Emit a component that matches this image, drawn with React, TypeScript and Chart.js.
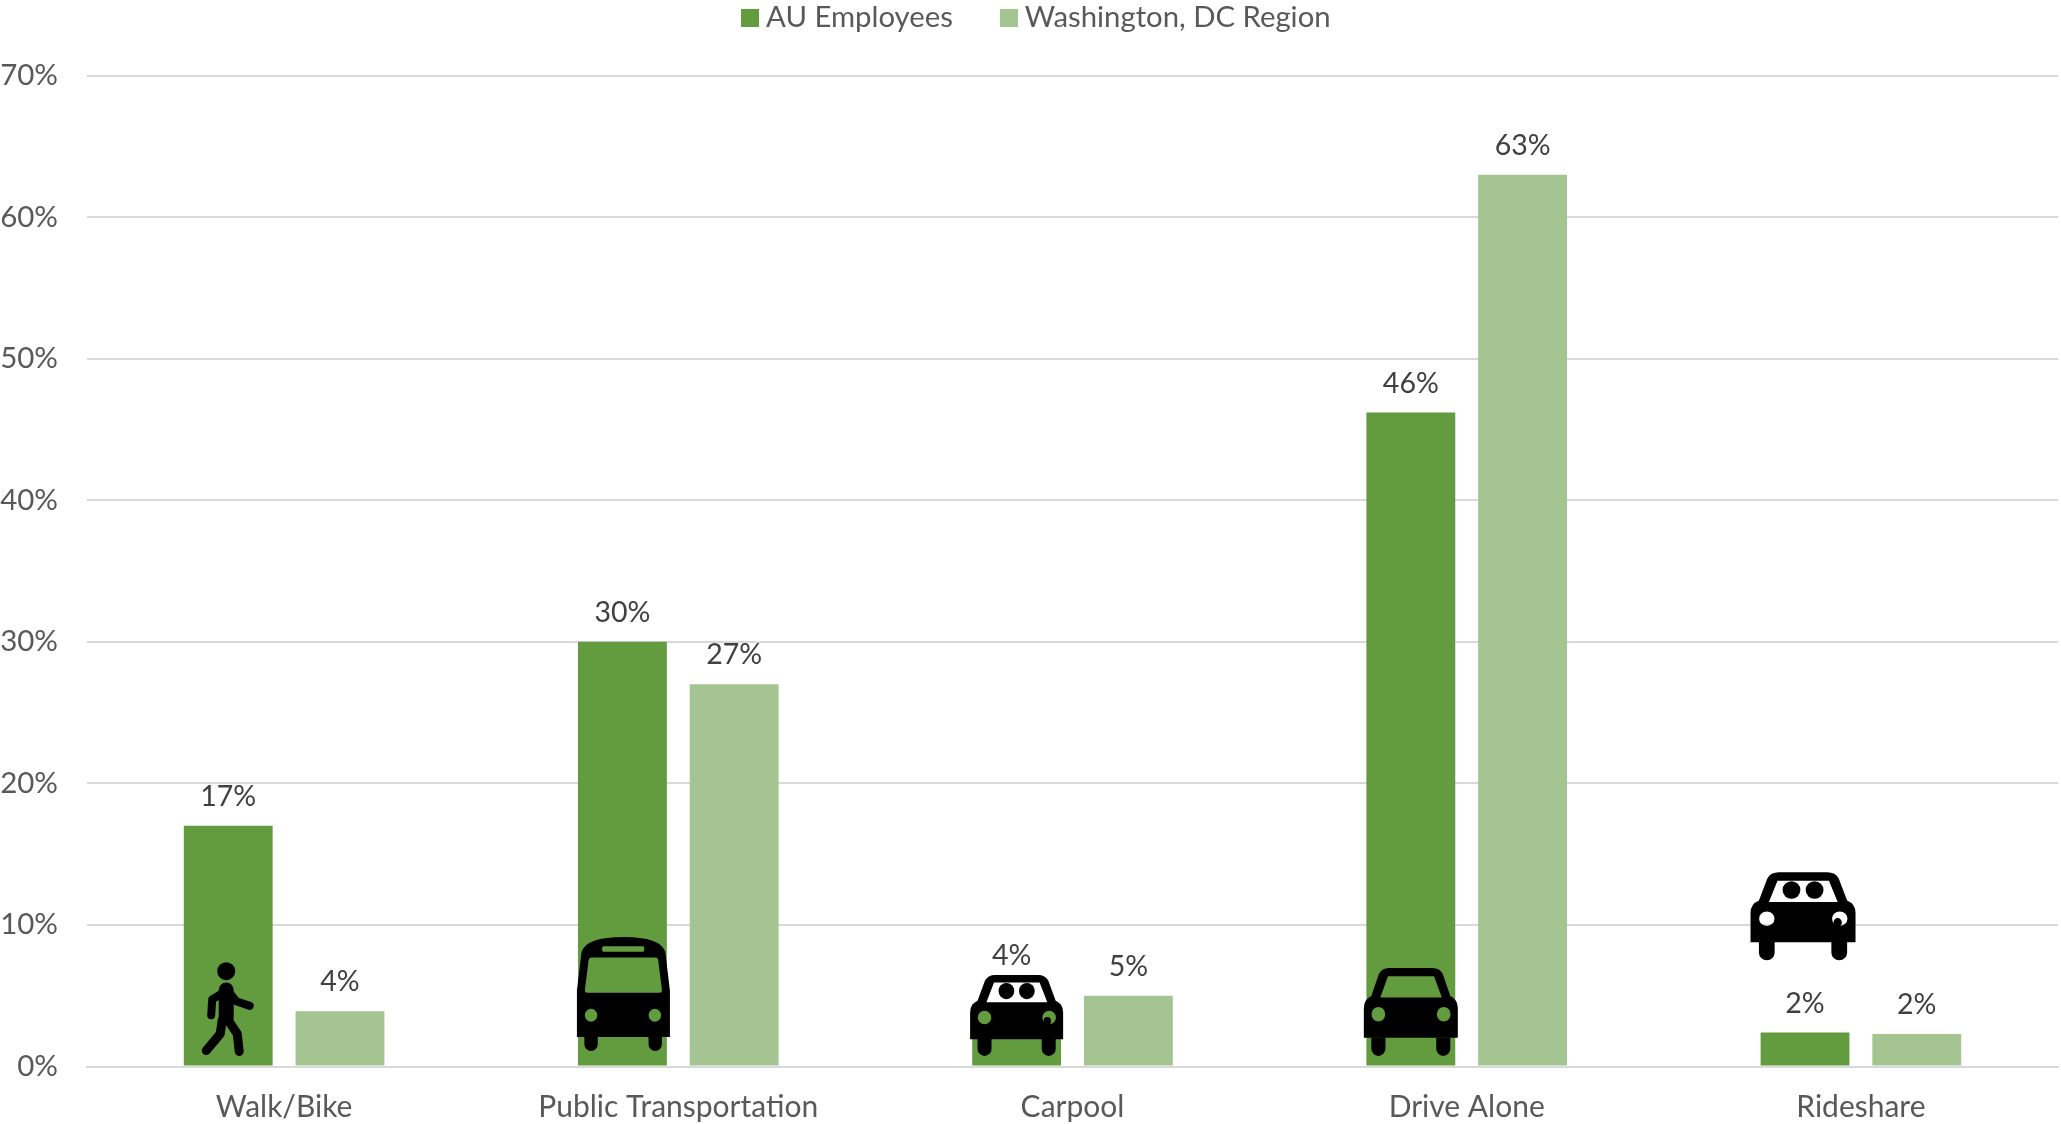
import React, { useEffect, useRef } from "react";
import { Chart, registerables } from "chart.js";

Chart.register(...registerables);

const categories = ["Walk/Bike", "Public Transportation", "Carpool", "Drive Alone", "Rideshare"];
const auEmployees = [17, 30, 4.4, 46.2, 2.4];
const dcRegion = [3.9, 27, 5, 63, 2.3];
const auLabels = ["17%", "30%", "4%", "46%", "2%"];
const dcLabels = ["4%", "27%", "5%", "63%", "2%"];
const yTicks = [0, 10, 20, 30, 40, 50, 60, 70];
const iconKinds = ["walker", "bus", "carpool", "car", "carpool"];
const iconBottomValues = [0.8, 1.1, 0.75, 0.75, 7.5];
const iconSizes = [[50, 93], [93, 114], [93, 81], [94, 88], [105, 88]];
const iconShiftX = [-1, 1, 0, 0, -2];
const auLabelLift = [0, 0, 19, 0, 0];
const auLabelShift = [0, 0, -5, 0, 0];

const GREEN = "#639B3F";
const LIGHT = "#A4C591";
const FONT = "Lato, 'Noto Sans', sans-serif";
const LEGEND_SHIFT = 11;

function ellipsePath(p: Path2D, cx: number, cy: number, rx: number, ry: number) {
  p.moveTo(cx + rx, cy);
  p.ellipse(cx, cy, rx, ry, 0, 0, Math.PI * 2);
}

function wheel(ctx: CanvasRenderingContext2D, x0: number, x1: number, y0: number, y1: number) {
  const r = (x1 - x0) / 2;
  ctx.beginPath();
  ctx.moveTo(x0, y0);
  ctx.lineTo(x0, y1 - r);
  ctx.arc(x0 + r, y1 - r, r, Math.PI, 0, true);
  ctx.lineTo(x1, y0);
  ctx.closePath();
  ctx.fill();
}

function drawCar(ctx: CanvasRenderingContext2D, x: number, y: number, w: number, h: number, people: boolean) {
  const X = (v: number) => x + v * w;
  const Y = (v: number) => y + v * h;
  const p = new Path2D();
  p.moveTo(X(0), Y(0.795));
  p.lineTo(X(0), Y(0.46));
  p.quadraticCurveTo(X(0), Y(0.36), X(0.08), Y(0.32));
  p.lineTo(X(0.16), Y(0.07));
  p.quadraticCurveTo(X(0.19), Y(0), X(0.27), Y(0));
  p.lineTo(X(0.73), Y(0));
  p.quadraticCurveTo(X(0.81), Y(0), X(0.84), Y(0.07));
  p.lineTo(X(0.92), Y(0.32));
  p.quadraticCurveTo(X(1), Y(0.36), X(1), Y(0.46));
  p.lineTo(X(1), Y(0.795));
  p.closePath();
  p.moveTo(X(0.257), Y(0.095));
  p.lineTo(X(0.747), Y(0.095));
  p.lineTo(X(0.83), Y(0.337));
  p.lineTo(X(0.175), Y(0.337));
  p.closePath();
  ellipsePath(p, X(0.155), Y(0.527), 0.073 * w, 0.083 * h);
  ellipsePath(p, X(0.85), Y(0.527), 0.073 * w, 0.083 * h);
  ctx.fill(p, "evenodd");
  wheel(ctx, X(0.08), X(0.23), Y(0.79), Y(1));
  wheel(ctx, X(0.77), X(0.92), Y(0.79), Y(1));
  if (people) {
    for (const cx of [0.39, 0.61]) {
      ctx.beginPath();
      ctx.ellipse(X(cx), Y(0.2), 0.085 * w, 0.1 * h, 0, 0, Math.PI * 2);
      ctx.fill();
    }
    ctx.beginPath();
    ctx.ellipse(X(0.83), Y(0.57), 0.04 * w, 0.05 * h, 0, 0, Math.PI * 2);
    ctx.fill();
  }
}

function drawBus(ctx: CanvasRenderingContext2D, x: number, y: number, w: number, h: number) {
  const X = (v: number) => x + v * w;
  const Y = (v: number) => y + v * h;
  const p = new Path2D();
  p.moveTo(X(0), Y(0.877));
  p.lineTo(X(0), Y(0.47));
  p.lineTo(X(0.05), Y(0.13));
  p.quadraticCurveTo(X(0.1), Y(0), X(0.5), Y(0));
  p.quadraticCurveTo(X(0.9), Y(0), X(0.95), Y(0.13));
  p.lineTo(X(1), Y(0.47));
  p.lineTo(X(1), Y(0.877));
  p.closePath();
  p.moveTo(X(0.16), Y(0.18));
  p.lineTo(X(0.85), Y(0.18));
  p.quadraticCurveTo(X(0.87), Y(0.18), X(0.875), Y(0.21));
  p.lineTo(X(0.915), Y(0.47));
  p.quadraticCurveTo(X(0.915), Y(0.49), X(0.89), Y(0.49));
  p.lineTo(X(0.11), Y(0.49));
  p.quadraticCurveTo(X(0.085), Y(0.49), X(0.085), Y(0.47));
  p.lineTo(X(0.125), Y(0.21));
  p.quadraticCurveTo(X(0.13), Y(0.18), X(0.16), Y(0.18));
  p.closePath();
  p.moveTo(X(0.28), Y(0.082));
  p.lineTo(X(0.715), Y(0.082));
  p.quadraticCurveTo(X(0.735), Y(0.106), X(0.715), Y(0.131));
  p.lineTo(X(0.28), Y(0.131));
  p.quadraticCurveTo(X(0.26), Y(0.106), X(0.28), Y(0.082));
  p.closePath();
  ellipsePath(p, X(0.152), Y(0.687), 0.067 * w, 0.056 * h);
  ellipsePath(p, X(0.838), Y(0.687), 0.067 * w, 0.056 * h);
  ctx.fill(p, "evenodd");
  wheel(ctx, X(0.08), X(0.224), Y(0.87), Y(1));
  wheel(ctx, X(0.77), X(0.914), Y(0.87), Y(1));
}

function drawWalker(ctx: CanvasRenderingContext2D, x: number, y: number, w: number, h: number) {
  const X = (v: number) => x + v * w;
  const Y = (v: number) => y + v * h;
  const limb = (pts: number[][], width: number) => {
    ctx.lineWidth = width;
    ctx.lineCap = "round";
    ctx.lineJoin = "round";
    ctx.beginPath();
    pts.forEach(([a, b], i) => (i ? ctx.lineTo(X(a), Y(b)) : ctx.moveTo(X(a), Y(b))));
    ctx.stroke();
  };
  ctx.beginPath();
  ctx.ellipse(X(0.48), Y(0.097), 0.18 * w, 0.097 * h, 0, 0, Math.PI * 2);
  ctx.fill();
  limb([[0.48, 0.3], [0.48, 0.6]], 15);
  limb([[0.38, 0.34], [0.2, 0.4], [0.18, 0.57]], 8);
  limb([[0.58, 0.35], [0.68, 0.42], [0.95, 0.47]], 8);
  limb([[0.4, 0.62], [0.36, 0.77], [0.08, 0.95]], 9);
  limb([[0.54, 0.64], [0.7, 0.77], [0.74, 0.96]], 9);
}

function legendSwatch(color: string) {
  const c = document.createElement("canvas");
  c.width = 18;
  c.height = 18;
  const g = c.getContext("2d")!;
  g.fillStyle = color;
  g.fillRect(0, 0, 18, 18);
  return c;
}

const legendSpacingPlugin = {
  id: "legendSpacing",
  beforeLayout(chart: any) {
    const legend = chart.legend;
    if (!legend || legend.__wrapped) return;
    const fit = legend.fit;
    legend.fit = function () {
      fit.call(this);
      this.height += 33.25;
    };
    legend.__wrapped = true;
  },
  afterLayout(chart: any) {
    const legend = chart.legend;
    if (!legend) return;
    legend.left += LEGEND_SHIFT;
    legend.right += LEGEND_SHIFT;
  },
};

const overlayPlugin = {
  id: "overlay",
  afterDatasetsDraw(chart: any) {
    const { ctx, scales } = chart;
    const first = chart.getDatasetMeta(0).data;
    const second = chart.getDatasetMeta(1).data;
    ctx.save();
    ctx.fillStyle = "#000";
    ctx.strokeStyle = "#000";
    iconKinds.forEach((kind, i) => {
      const [w, h] = iconSizes[i];
      const bottom = scales.y.getPixelForValue(iconBottomValues[i]);
      const x = first[i].x - w / 2 + iconShiftX[i];
      const y = bottom - h;
      if (kind === "walker") drawWalker(ctx, x, y, w, h);
      else if (kind === "bus") drawBus(ctx, x, y, w, h);
      else drawCar(ctx, x, y, w, h, kind === "carpool");
    });
    ctx.font = `28.5px ${FONT}`;
    ctx.fillStyle = "#404040";
    ctx.textAlign = "center";
    ctx.textBaseline = "middle";
    categories.forEach((_, i) => {
      ctx.fillText(auLabels[i], first[i].x + auLabelShift[i], first[i].y - 29 - auLabelLift[i]);
      ctx.fillText(dcLabels[i], second[i].x, second[i].y - 29);
    });
    ctx.restore();
  },
};

export default function App() {
  const ref = useRef<HTMLCanvasElement>(null);
  useEffect(() => {
    const swatches = [legendSwatch(GREEN), legendSwatch(LIGHT)];
    const chart = new Chart(ref.current!, {
      type: "bar",
      data: {
        labels: categories,
        datasets: [
          { label: "AU Employees", data: auEmployees, backgroundColor: GREEN },
          { label: "Washington, DC Region", data: dcRegion, backgroundColor: LIGHT },
        ],
      },
      options: {
        responsive: false,
        animation: false,
        datasets: { bar: { categoryPercentage: 0.567, barPercentage: 0.795 } },
        layout: { padding: { top: -52.25, left: 0, right: 3, bottom: 0 } },
        plugins: {
          tooltip: { enabled: false },
          legend: {
            position: "top",
            align: "center",
            labels: {
              usePointStyle: true,
              pointStyleWidth: 2,
              boxHeight: 18,
              padding: 55.25,
              color: "#595959",
              font: { family: FONT, size: 29.3 },
              generateLabels: (c: any) =>
                c.data.datasets.map((d: any, i: number) => ({
                  text: d.label,
                  fontColor: "#595959",
                  pointStyle: swatches[i],
                  datasetIndex: i,
                  lineWidth: 0,
                })),
            },
          },
        },
        scales: {
          x: {
            grid: { display: false, drawTicks: false },
            border: { color: "#D9D9D9", width: 2 },
            ticks: { color: "#595959", font: { family: FONT, size: 30 }, padding: 23, maxRotation: 0 },
            afterFit: (s: any) => { s.height = 57.5; },
          },
          y: {
            min: 0,
            max: 70,
            afterBuildTicks: (s: any) => { s.ticks = yTicks.map((value) => ({ value })); },
            grid: { color: "#D9D9D9", lineWidth: 2, drawTicks: false },
            border: { display: false },
            ticks: {
              color: "#595959",
              font: { family: FONT, size: 29.5 },
              padding: 29,
              callback: (v: any) => `${v}%`,
            },
            afterFit: (s: any) => { s.width = 87; },
          },
        },
      },
      plugins: [legendSpacingPlugin, overlayPlugin],
    } as any);
    return () => chart.destroy();
  }, []);
  return (
    <div style={{ position: "absolute", left: 0, top: 0, width: 2061, height: 1124, overflow: "hidden", background: "#fff" }}>
      <canvas ref={ref} width={2061} height={1124} style={{ display: "block" }} />
    </div>
  );
}
